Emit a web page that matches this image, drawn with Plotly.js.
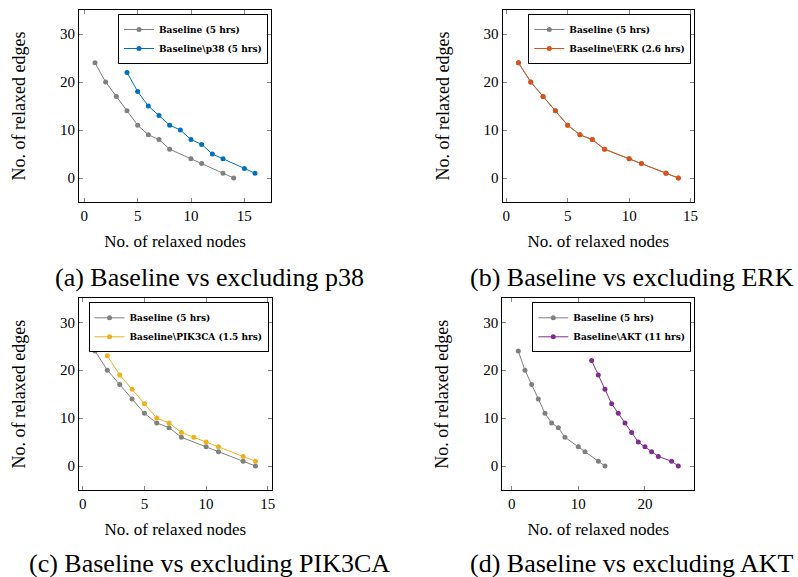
<!DOCTYPE html>
<html>
<head>
<meta charset="utf-8">
<script src="https://cdn.plot.ly/plotly-3.0.1.min.js"></script>
<style>html,body{margin:0;padding:0;background:#fff;}</style>
</head>
<body>
<div id="chart" style="width:798px;height:577px;"></div>
<script>
// ---- data ----
const baselineX = [1, 2, 3, 4, 5, 6, 7, 8, 10, 11, 13, 14];
const baselineY = [24, 20, 17, 14, 11, 9, 8, 6, 4, 3, 1, 0];

const p38X = [4, 5, 6, 7, 8, 9, 10, 11, 12, 13, 15, 16];
const p38Y = [22, 18, 15, 13, 11, 10, 8, 7, 5, 4, 2, 1];

const erkX = [1, 2, 3, 4, 5, 6, 7, 8, 10, 11, 13, 14];
const erkY = [24, 20, 17, 14, 11, 9, 8, 6, 4, 3, 1, 0];

const pik3caX = [2, 3, 4, 5, 6, 7, 8, 9, 10, 11, 13, 14];
const pik3caY = [23, 19, 16, 13, 10, 9, 7, 6, 5, 4, 2, 1];

const aktX = [12, 13, 14, 15, 16, 17, 18, 19, 20, 21, 22, 24, 25];
const aktY = [22, 19, 16, 13, 11, 9, 7, 5, 4, 3, 2, 1, 0];

const seriesNames = ["Baseline (5 hrs)", "Baseline\\p38 (5 hrs)", "Baseline\\ERK (2.6 hrs)",
                     "Baseline\\PIK3CA (1.5 hrs)", "Baseline\\AKT (11 hrs)"];
const captions = ["(a) Baseline vs excluding p38", "(b) Baseline vs excluding ERK",
                  "(c) Baseline vs excluding PIK3CA", "(d) Baseline vs excluding AKT"];
const xTickVals = [[0, 5, 10, 15], [0, 5, 10, 15], [0, 5, 10, 15], [0, 10, 20]];
const yTickVals = [0, 10, 20, 30];
const xTitle = "No. of relaxed nodes";
const yTitle = "No. of relaxed edges";

// ---- styling ----
const W = 798, H = 577;
const GRAY = "#808080";
const colors = ["#0072BD", "#D95319", "#EDB120", "#7E2F8E"];
const serif = "'Liberation Serif', 'Times New Roman', serif";
const legendFont = "'DejaVu Serif', serif";
// panel boxes in pixels [left, right, top, bottom]
const boxes = [[79, 271, 10, 202], [502.5, 694.3, 10, 202], [79, 271.5, 298.3, 490], [502.3, 694.3, 298.3, 490]];
const xRanges = [[-0.5, 17.5], [-0.3, 15.3], [-0.3, 15.3], [-1.4, 27.4]];
const yRange = [-5, 35];

const others = [[p38X, p38Y], [erkX, erkY], [pik3caX, pik3caY], [aktX, aktY]];

const traces = [];
const layout = {
  width: W, height: H,
  margin: {l: 0, r: 0, t: 0, b: 0},
  paper_bgcolor: "#fff", plot_bgcolor: "#fff",
  font: {family: serif, color: "#000"},
  annotations: []
};

for (let i = 0; i < 4; i++) {
  const s = i === 0 ? "" : String(i + 1);
  const lg = i === 0 ? "legend" : "legend" + (i + 1);
  const [l, r, t, b] = boxes[i];
  traces.push({
    x: baselineX, y: baselineY, name: seriesNames[0], type: "scatter", mode: "lines+markers",
    xaxis: "x" + s, yaxis: "y" + s, legend: lg,
    line: {color: GRAY, width: 1}, marker: {color: GRAY, size: 5}
  });
  traces.push({
    x: others[i][0], y: others[i][1], name: seriesNames[i + 1], type: "scatter", mode: "lines+markers",
    xaxis: "x" + s, yaxis: "y" + s, legend: lg,
    line: {color: colors[i], width: 1}, marker: {color: colors[i], size: 5}
  });
  const axCommon = {
    showline: true, linecolor: "#000", linewidth: 1, mirror: "allticks",
    ticks: "inside", ticklen: 4, tickcolor: "#888", tickwidth: 1,
    showgrid: false, zeroline: false,
    tickfont: {family: serif, size: 15, color: "#000"}
  };
  layout["xaxis" + s] = Object.assign({}, axCommon, {
    domain: [l / W, r / W], anchor: "y" + s, range: xRanges[i],
    tickmode: "array", tickvals: xTickVals[i],
    title: {text: xTitle, font: {family: serif, size: 17, color: "#000"}, standoff: 12}
  });
  layout["yaxis" + s] = Object.assign({}, axCommon, {
    domain: [1 - b / H, 1 - t / H], anchor: "x" + s, range: yRange,
    tickmode: "array", tickvals: yTickVals,
    title: {text: yTitle, font: {family: serif, size: 18, color: "#000"}, standoff: 29}
  });
  layout[lg] = {
    x: (r - 3) / W, xanchor: "right", y: 1 - (t + 4) / H, yanchor: "top",
    bgcolor: "#fff", bordercolor: "#000", borderwidth: 1,
    font: {family: legendFont, size: 9, weight: "bold", color: "#000"},
    itemwidth: 30, tracegroupgap: 0
  };
  layout.annotations.push({
    text: captions[i], xref: "paper", yref: "paper",
    x: (i % 2 === 0 ? 209 : 632) / W, y: 1 - (i < 2 ? 278 : 563) / H,
    xanchor: "center", yanchor: "middle", showarrow: false,
    font: {family: serif, size: 26, color: "#000"}
  });
}

Plotly.newPlot("chart", traces, layout, {displayModeBar: false, staticPlot: true});
</script>
</body>
</html>
